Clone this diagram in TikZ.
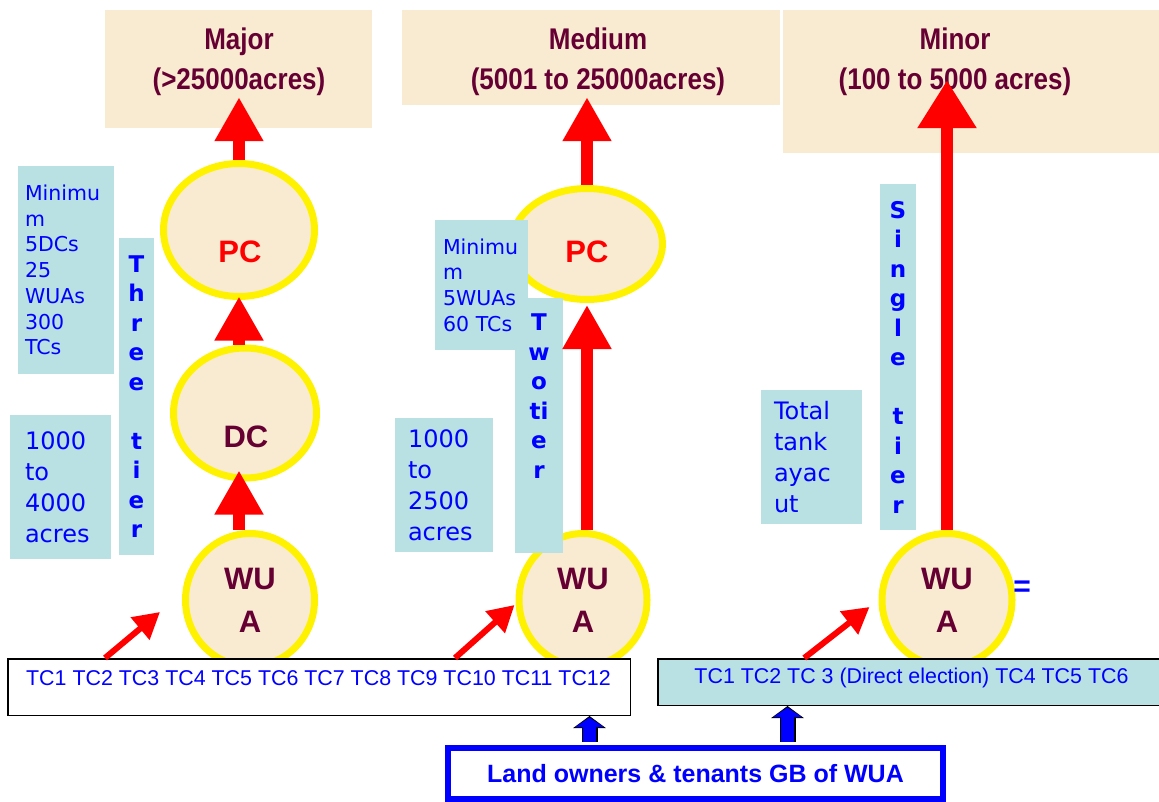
\documentclass[tikz,border=0pt]{standalone}
\usepackage{fontspec}
\setmainfont{DejaVu Sans}
\newfontfamily\arialfont{Liberation Sans}
\usetikzlibrary{shapes.geometric}
\usetikzlibrary{arrows.meta}
\definecolor{paper}{HTML}{F9EBD2}
\definecolor{notebg}{HTML}{B9E0E2}
\definecolor{maroon}{HTML}{660033}
\newcommand\tallline[1]{\scalebox{1}[1.15]{#1}}

\begin{document}
\begin{tikzpicture}[x=1pt,y=-1pt,
    titlebox/.style={fill=paper, inner sep=0pt},
    titletext/.style={text=maroon, align=center, font=\arialfont\bfseries\fontsize{26}{40}\selectfont},
    hub/.style={ellipse, draw=yellow, line width=7pt, fill=paper, inner sep=0pt},
    hubtext/.style={align=center, font=\arialfont\bfseries\fontsize{31}{43}\selectfont},
    note/.style={fill=notebg, text=blue, inner ysep=0pt, align=left, font=\fontsize{24}{31}\selectfont},
    smallnote/.style={note, font=\fontsize{20.5}{25.7}\selectfont},
    tier/.style={fill=notebg, text=blue, inner sep=0pt, align=center, font=\bfseries\fontsize{23}{29.5}\selectfont},
    rowbox/.style={draw=black, line width=1.5pt, inner sep=0pt},
    rowtext/.style={text=blue, font=\arialfont\fontsize{21.4}{26}\selectfont},
    bigup/.style={red, line width=12pt, -{Triangle[width=46pt,length=44pt]}},
    smallup/.style={red, line width=6pt, -{Triangle[width=28pt,length=26pt]}},
    ownback/.style={black, line width=16pt, shorten <=3pt, -{Triangle[width=32pt,length=12pt]}},
    ownfront/.style={blue, line width=13pt, shorten <=3pt, shorten >=1.5pt, -{Triangle[width=28pt,length=9.5pt]}}]
    \useasboundingbox (0,0) rectangle (1159,802);

    \node[titlebox, minimum width=267pt, minimum height=118pt] (major) at (238.5,69) {};
    \node[titlebox, minimum width=378pt, minimum height=95pt] (medium) at (591,57.5) {};
    \node[titlebox, minimum width=376pt, minimum height=143pt] (minor) at (971,81.5) {};
    \node[titletext] (majort) at (239,62) {\tallline{Major}\\\tallline{(>25000acres)}};
    \node[titletext] (mediumt) at (598,62) {\tallline{Medium}\\\tallline{(5001 to 25000acres)}};
    \node[titletext] (minort) at (955,62) {\tallline{Minor}\\\tallline{(100 to 5000 acres)}};

    \node[hub, minimum width=151pt, minimum height=133pt] (pc1) at (239,230) {};
    \node[hub, minimum width=143pt, minimum height=130pt] (dc1) at (245,413) {};
    \node[hub, hubtext, text=maroon, minimum width=129pt, minimum height=133pt] (wua1) at (250,600) {WU\\A};
    \node[hub, minimum width=151pt, minimum height=111pt] (pc2) at (587,244) {};
    \node[hub, hubtext, text=maroon, minimum width=128pt, minimum height=133pt] (wua2) at (583,600) {WU\\A};
    \node[hub, hubtext, text=maroon, minimum width=130pt, minimum height=133pt] (wua3) at (947,600) {WU\\A};
    \node[hubtext, text=red] (pc1t) at (240,252) {PC};
    \node[hubtext, text=maroon] (dc1t) at (246,437) {DC};
    \node[hubtext, text=red] (pc2t) at (587,252) {PC};

    \node[smallnote, inner xsep=7pt, text width=82pt, minimum height=208pt] (info1) at (66,270) {Minimu\\m\\5DCs\\25\\WUAs\\300\\TCs};
    \node[tier, minimum width=35pt, minimum height=317pt] (tier1) at (136.5,396.5) {T\\h\\r\\e\\e\\~\\t\\i\\e\\r};
    \node[note, inner xsep=15pt, text width=71pt, minimum height=144pt] (acres1) at (60.5,487) {1000\\to\\4000\\acres};
    \node[smallnote, inner xsep=8pt, text width=77pt, minimum height=130pt] (info2) at (481.5,285) {Minimu\\m\\5WUAs\\60 TCs};
    \node[tier, minimum width=48pt, minimum height=255pt] (tier2) at (539,425.5) {T\\w\\o\\ti\\e\\r\\~\\~};
    \node[note, inner xsep=13pt, text width=72pt, minimum height=134pt] (acres2) at (444,485) {1000\\to\\2500\\acres};
    \node[note, inner xsep=13pt, text width=75pt, minimum height=134pt] (total) at (811.5,457) {Total\\tank\\ayac\\ut};
    \node[tier, minimum width=36pt, minimum height=346pt] (tier3) at (898,357) {S\\i\\n\\g\\l\\e\\~\\t\\i\\e\\r};
    \node[text=blue, font=\arialfont\bfseries\fontsize{30}{34}\selectfont] (eq) at (1022,589) {=};

    \node[rowbox, fill=white, minimum width=622.5pt, minimum height=56.5pt] (tc1) at (319,687) {};
    \node[rowbox, fill=notebg, minimum width=504pt, minimum height=46.5pt] (tc2) at (910,682) {};
    \node[rowtext] (tc1t) at (318.5,678) {TC1 TC2 TC3 TC4 TC5 TC6 TC7 TC8 TC9 TC10 TC11 TC12};
    \node[rowtext] (tc2t) at (911.5,678) {TC1 TC2 TC 3 (Direct election) TC4 TC5 TC6};
    \node[draw=blue, line width=6pt, fill=white, minimum width=495pt, minimum height=51pt, text=blue,
          font=\arialfont\bfseries\fontsize{25}{30}\selectfont] (land) at (695.5,773.5) {Land owners \& tenants GB of WUA};

    \draw[bigup, shorten >=-11pt] (pc1.south |- wua1.north) -- (pc1.south |- dc1.south);
    \draw[bigup, shorten >=-3.5pt] (pc1.south |- dc1.north) -- (pc1.south);
    \draw[bigup, shorten >=-31pt] (pc1.north) -- (pc1.north |- major.south);
    \draw[bigup, shorten >=2pt] (pc2.south |- wua2.north) -- (pc2.south);
    \draw[bigup, shorten >=-8pt] (pc2.north) -- (pc2.north |- medium.south);
    \draw[bigup, -{Triangle[width=56pt,length=48pt]}, shorten >=-73pt] (wua3.north) -- (wua3.north |- minor.south);

    \coordinate (from1) at ([xshift=98pt]tc1.north west);
    \coordinate (from2) at ([xshift=448pt]tc1.north west);
    \coordinate (from3) at ([xshift=147pt]tc2.north west);
    \coordinate (to1) at ([xshift=-22pt,yshift=-12pt]wua1.west);
    \coordinate (to2) at ([xshift=-1pt,yshift=-5pt]wua2.west);
    \coordinate (to3) at ([xshift=-9pt,yshift=-7pt]wua3.west);
    \draw[smallup] (from1) -- (to1);
    \draw[smallup] (from2) -- (to2);
    \draw[smallup] (from3) -- (to3);

    \coordinate (own1) at ([xshift=-106pt]land.north);
    \coordinate (own2) at ([xshift=92pt]land.north);
    \draw[ownback] (own1) -- (own1 |- tc1.south);
    \draw[ownfront] (own1) -- (own1 |- tc1.south);
    \draw[ownback] (own2) -- (own2 |- tc2.south);
    \draw[ownfront] (own2) -- (own2 |- tc2.south);
\end{tikzpicture}
\end{document}
